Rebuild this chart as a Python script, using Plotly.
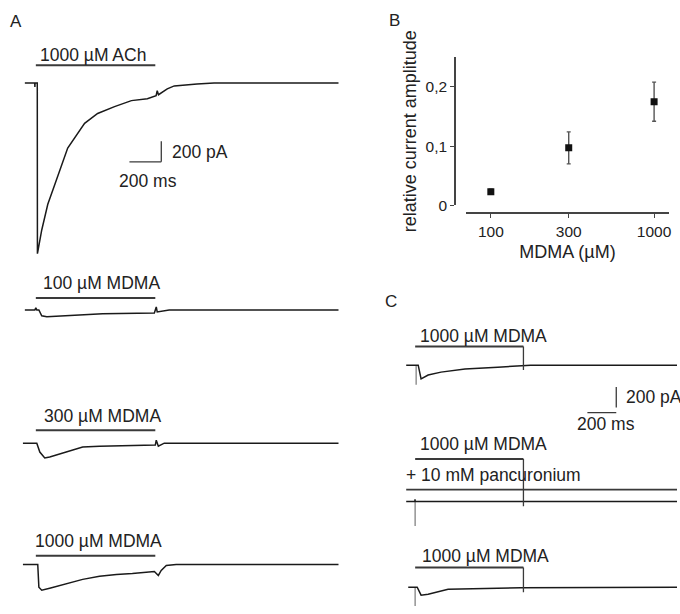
import math
import plotly.graph_objects as go

W, H = 680, 614

# ------------------------------------------------------------------ data
# Panel A: whole-cell currents, time in ms (0 = start of application), current in pA
ach_t = [-69, -7, -6, -5, 9, 10, 37, 75, 119, 200, 306, 388, 494, 600, 700, 755, 762, 770, 825, 869, 1012, 1119, 1900]
ach_i = [0, 0, -40, 0, 0, -1648, -1419, -1171, -981, -629, -390, -295, -229, -171, -152, -124, -76, -114, -57, -29, -10, 0, 0]

mdma100_t = [-69, -6, 0, 6, 19, 37, 69, 212, 419, 744, 756, 762, 837, 1900]
mdma100_i = [0, 0, 19, 0, 0, -57, -67, -57, -38, -29, 29, -19, 0, 0]

mdma300_t = [-81, 6, 25, 56, 87, 194, 294, 400, 606, 750, 756, 769, 806, 1900]
mdma300_i = [0, 0, -86, -143, -133, -86, -38, -29, -24, -19, 29, -29, 0, 0]

mdma1000_t = [-81, 12, 19, 37, 87, 194, 294, 400, 506, 606, 744, 769, 787, 819, 881, 1900]
mdma1000_i = [0, 0, -219, -248, -229, -181, -143, -114, -95, -86, -67, -105, -57, -10, 0, 0]

# Panel C: 1000 uM MDMA, + pancuronium, washout
c1_t = [-62, 0, 21, 41, 90, 179, 345, 572, 731, 800, 1814]
c1_i = [0, 0, 0, -133, -95, -67, -38, -19, -10, 0, 0]
c2_t = [-62, -2, -1, 0, 1814]
c2_i = [0, 0, 20, 0, 0]
c3_t = [-48, 14, 41, 90, 228, 455, 731, 1814]
c3_i = [0, 0, -76, -67, -19, -10, -5, 0]
artifact_t = [7, 0, 0]            # stimulus artefact time, ms (C1, C2, C3)
artifact_i = [-190, -238, -220]   # artefact depth, pA

APPLICATION_MS = 750
SCALE_MS = 200
SCALE_PA = 200

# Panel B: concentration-response
conc = [100, 300, 1000]
amp = [0.023, 0.097, 0.175]
amp_err = [0.004, 0.027, 0.033]
y_ticks = [0, 0.1, 0.2]
y_ticktext = ["0", "0,1", "0,2"]
x_ticktext = ["100", "300", "1000"]

a_labels = ["1000 µM ACh", "100 µM MDMA", "300 µM MDMA", "1000 µM MDMA"]
c_labels = ["1000 µM MDMA", "1000 µM MDMA", "1000 µM MDMA"]
panc_label = "+ 10 mM pancuronium"
scale_labels = ["200 pA", "200 ms"]

# ------------------------------------------------------------------ layout helpers
FONT = "Liberation Sans, Arial, Helvetica, sans-serif"
TXT = "#222222"
TRACE = "#1a1a1a"
BAR = "#3a3a3a"
GREY = "#9a9a9a"
S_A = 0.16    # px per ms, panel A
S_C = 0.145   # px per ms, panel C
S_I = 0.105   # px per pA


def xdom(p0, p1):
    return [p0 / W, p1 / W]


def ydom(top, bot):
    return [1 - bot / H, 1 - top / H]


def t_range(p0, p1, t0px, s):
    return [(p0 - t0px) / s, (p1 - t0px) / s]


def i_range(top, bot, base):
    return [-(bot - base) / S_I, (base - top) / S_I]


def pa_at(px, base):
    return (base - px) / S_I


fig = go.Figure()
layout = dict(
    width=W, height=H, margin=dict(l=0, r=0, t=0, b=0),
    paper_bgcolor="white", plot_bgcolor="rgba(0,0,0,0)",
    showlegend=False, font=dict(family=FONT, color=TXT, size=15),
)
shapes = []
annotations = []


def ann(text, x, y, size=17.5, xanchor="left"):
    annotations.append(dict(text=text, x=x / W, y=1 - y / H, xref="paper", yref="paper",
                            xanchor=xanchor, yanchor="middle", showarrow=False,
                            font=dict(size=size, family=FONT, color=TXT)))


def line_shape(xr, yr, x0, y0, x1, y1, color=BAR, width=2):
    shapes.append(dict(type="line", xref=xr, yref=yr, x0=x0, y0=y0, x1=x1, y1=y1,
                       line=dict(color=color, width=width)))


# ---------------- Panel A
A_X0PX = 36
layout["xaxis2"] = dict(domain=xdom(16, 350), range=t_range(16, 350, A_X0PX, S_A),
                        visible=False, anchor="y2", fixedrange=True)
a_rows = [  # (times, currents, baseline px, domain top, domain bottom, bar px, label y px, label x px)
    (ach_t, ach_i, 84, 40, 272, 66, 56, 38),
    (mdma100_t, mdma100_i, 314, 295, 332, 302, 287, 41),
    (mdma300_t, mdma300_i, 449, 428, 478, 436, 421.5, 42),
    (mdma1000_t, mdma1000_i, 572, 555, 612, 563, 548, 33),
]
for k, (tt, ii, base, top, bot, barpx, lab_y, lab_x) in enumerate(a_rows):
    n = k + 2
    layout[f"yaxis{n}"] = dict(domain=ydom(top, bot), range=i_range(top, bot, base),
                               visible=False, anchor="x2", fixedrange=True)
    fig.add_trace(go.Scatter(x=tt, y=ii, xaxis="x2", yaxis=f"y{n}", mode="lines",
                             line=dict(color=TRACE, width=1.5), hoverinfo="skip"))
    yb = pa_at(barpx, base)
    line_shape("x2", f"y{n}", 0, yb, APPLICATION_MS, yb)
    ann(a_labels[k], lab_x, lab_y)

# scale bar A (in ACh axes)
corner_t = (162 - A_X0PX) / S_A
corner_i = pa_at(164, 84)
line_shape("x2", "y2", corner_t, corner_i, corner_t, corner_i + SCALE_PA, color=BAR, width=1.3)
line_shape("x2", "y2", corner_t - SCALE_MS, corner_i, corner_t, corner_i, color=BAR, width=1.3)
ann(scale_labels[0], 171, 153.5)
ann(scale_labels[1], 118, 183.5)

# ---------------- Panel C
C_X0PX = 417
layout["xaxis3"] = dict(domain=xdom(400, 680), range=t_range(400, 680, C_X0PX, S_C),
                        visible=False, anchor="y6", fixedrange=True)
c_rows = [  # (times, currents, baseline px, top, bottom, bar px, label y px)
    (c1_t, c1_i, 370, 335, 428, 351, 340),
    (c2_t, c2_i, 508, 458, 545, 465, 450),
    (c3_t, c3_i, 595, 565, 614, 575, 563),
]
for k, (tt, ii, base, top, bot, barpx, lab_y) in enumerate(c_rows):
    n = k + 6
    layout[f"yaxis{n}"] = dict(domain=ydom(top, bot), range=i_range(top, bot, base),
                               visible=False, anchor="x3", fixedrange=True)
    fig.add_trace(go.Scatter(x=[artifact_t[k], artifact_t[k]], y=[0, artifact_i[k]],
                             xaxis="x3", yaxis=f"y{n}", mode="lines",
                             line=dict(color=GREY, width=1.6), hoverinfo="skip"))
    fig.add_trace(go.Scatter(x=tt, y=ii, xaxis="x3", yaxis=f"y{n}", mode="lines",
                             line=dict(color=TRACE, width=1.5), hoverinfo="skip"))
    yb = pa_at(barpx, base)
    line_shape("x3", f"y{n}", 0, yb, APPLICATION_MS, yb)
    line_shape("x3", f"y{n}", APPLICATION_MS, yb, APPLICATION_MS, pa_at(base + 5, base), width=1.3)
    ann(c_labels[k], 420 if k < 2 else 422, lab_y)

# pancuronium line
yp = pa_at(496, 508)
line_shape("x3", "y7", c2_t[0], yp, c2_t[-1], yp, width=1.8)
ann(panc_label, 406, 481)

# scale bar C (in C1 axes)
ct = (619 - C_X0PX) / S_C
line_shape("x3", "y6", ct, pa_at(413, 370), ct, pa_at(413, 370) + SCALE_PA, width=1.3)
line_shape("x3", "y6", ct - SCALE_MS, pa_at(418, 370), ct, pa_at(418, 370), width=1.3)
ann(scale_labels[0], 627, 402)
ann(scale_labels[1], 578, 430)

# ---------------- Panel B
px_per_dec = 164
x_lo = math.log10(100) + (468 - 493) / px_per_dec
x_hi = math.log10(100) + (672 - 493) / px_per_dec
layout["xaxis"] = dict(type="log", domain=xdom(468, 672), range=[x_lo, x_hi],
                       anchor="free", position=1 - 216 / H,
                       showline=True, linecolor="#444", linewidth=1.5, mirror=False,
                       ticks="outside", ticklen=4, tickwidth=1.3, tickcolor="#444",
                       tickvals=conc, ticktext=x_ticktext, tickfont=dict(size=15.5),
                       showgrid=False, zeroline=False, fixedrange=True,
                       title=dict(text="MDMA (µM)", font=dict(size=18), standoff=6))
layout["yaxis"] = dict(domain=ydom(58, 208), range=[0, 0.25],
                       anchor="free", position=457 / W,
                       showline=True, linecolor="#444", linewidth=1.5,
                       ticks="outside", ticklen=4, tickwidth=1.3, tickcolor="#444",
                       tickvals=y_ticks, ticktext=y_ticktext, tickfont=dict(size=15.5),
                       showgrid=False, zeroline=False, fixedrange=True,
                       title=dict(text="relative current amplitude", font=dict(size=18), standoff=3))
fig.add_trace(go.Scatter(x=conc, y=amp, xaxis="x", yaxis="y", mode="markers",
                         marker=dict(symbol="square", size=7, color="#111"),
                         error_y=dict(type="data", array=amp_err, visible=True,
                                      color="#555", thickness=1.4, width=2),
                         hoverinfo="skip"))

# panel letters
ann("A", 16, 22, size=17, xanchor="center")
ann("B", 396, 21, size=17, xanchor="center")
ann("C", 393, 305, size=17, xanchor="center")

layout["shapes"] = shapes
layout["annotations"] = annotations
fig.update_layout(**layout)
fig.write_html("out.html", config={"displayModeBar": False},
               post_script="document.body.style.margin='0px';")
